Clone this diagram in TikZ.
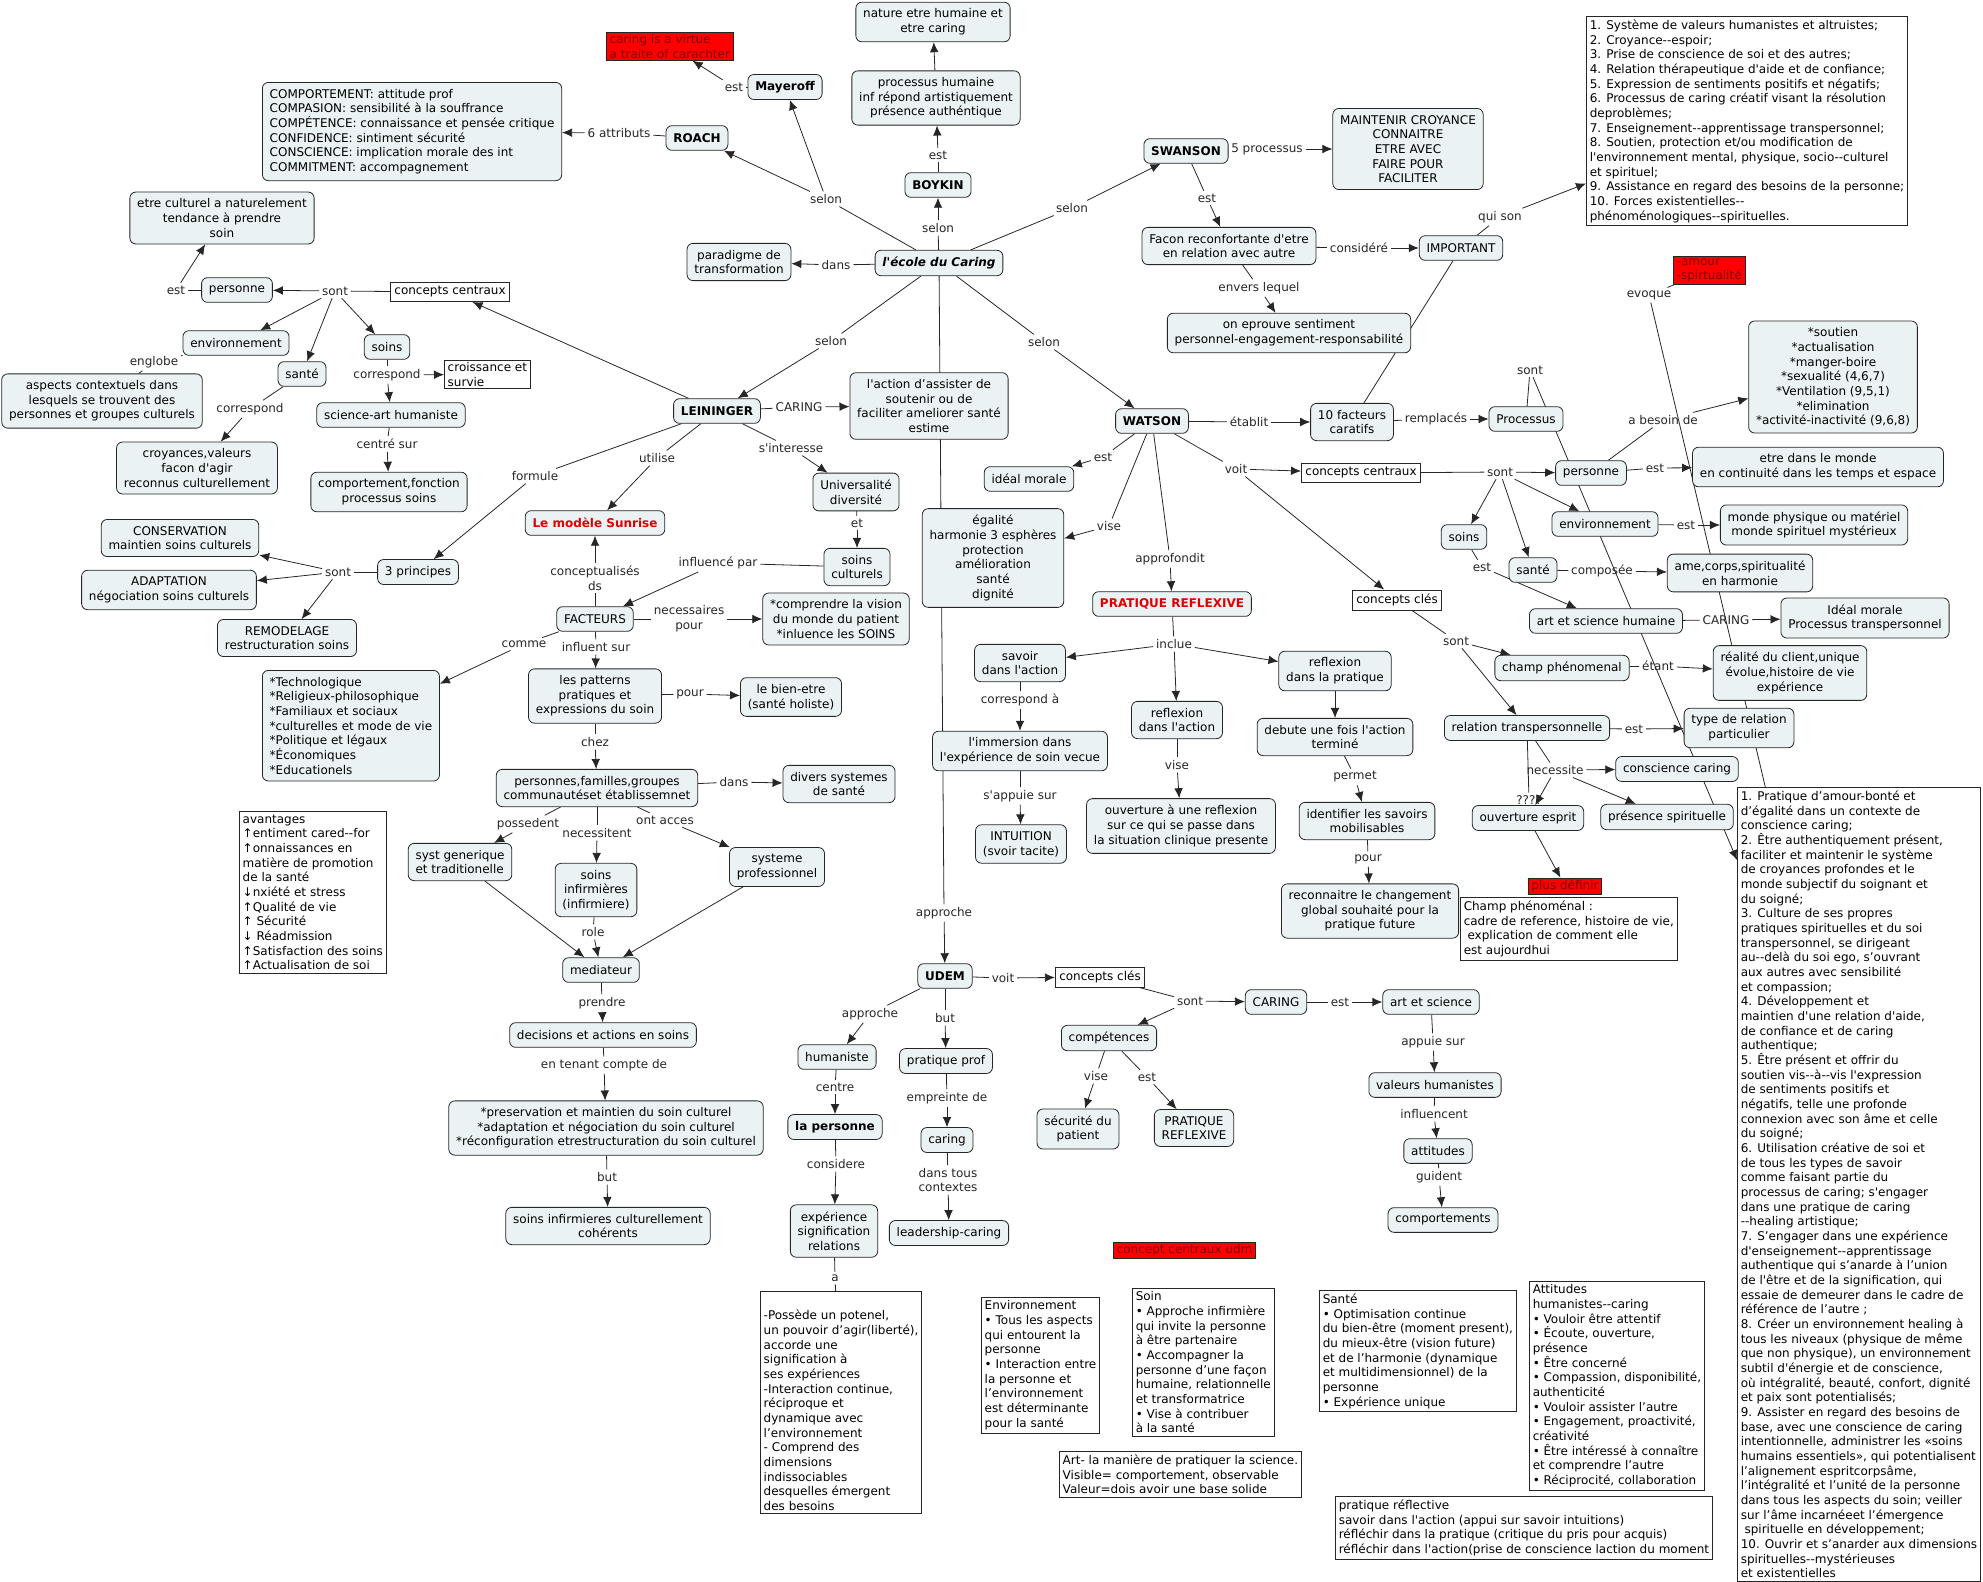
\documentclass[tikz,border=0pt]{standalone}
\usepackage{fontspec}
\setmainfont{DejaVu Sans}[Ligatures=TeXOff]
\usepackage{tikz}
\usetikzlibrary{arrows.meta,calc,backgrounds}
\definecolor{CmapFill}{HTML}{EBF2F4}
\definecolor{CmapLine}{HTML}{262626}
\definecolor{CmapRed}{HTML}{FF0000}
\definecolor{CmapRedText}{HTML}{7A0000}
\definecolor{CmapAlert}{HTML}{E00000}
\newcommand{\mapsize}{\fontsize{9}{11}\selectfont}

\begin{document}
\begin{tikzpicture}[
  x=0.75pt,y=-0.75pt,
  concept/.style={draw=CmapLine,line width=0.6pt,rounded corners=4.5pt,fill=CmapFill,align=center,font=\mapsize,inner xsep=5.5pt,inner ysep=5pt,minimum height=18.5pt},
  listbox/.style={concept,align=left,anchor=north west},
  strong/.style={concept,font=\mapsize\bfseries},
  alert/.style={concept,font=\mapsize\bfseries,text=CmapAlert},
  tag/.style={draw=CmapLine,line width=0.6pt,fill=white,font=\mapsize,inner xsep=3pt,inner ysep=3pt,minimum height=14.5pt},
  note/.style={draw=CmapLine,line width=0.6pt,fill=white,font=\mapsize,align=left,anchor=north west,inner xsep=2.5pt,inner ysep=2.5pt},
  flag/.style={note,fill=CmapRed,text=CmapRedText,inner ysep=1.5pt},
  link/.style={font=\mapsize,align=center,inner sep=2pt,text=CmapLine},
  plain/.style={line width=0.6pt,draw=CmapLine},
  arrow/.style={plain,-{Latex[length=7.5pt,width=6.5pt]}}
]
  \useasboundingbox (0,0) rectangle (1983,1581);

  % ---- l'ecole du caring and its authors
  \node[concept,font=\mapsize\bfseries\itshape] (ecole) at (939,263) {l'école du Caring};
  \node[concept] (paradigme) at (739,262) {paradigme de\\transformation};
  \node[strong] (boykin) at (938,185) {BOYKIN};
  \node[concept] (proch) at (936,98) {processus humaine\\inf répond artistiquement\\présence authéntique};
  \node[concept] (nature) at (933,22) {nature etre humaine et\\etre caring};
  \node[strong] (mayeroff) at (785,87) {Mayeroff};
  \node[flag] (virtue) at (606,32) {caring is a virtue\\a traite of carachter};
  \node[strong] (roach) at (697,138) {ROACH};
  \node[listbox] (comp) at (262,82) {COMPORTEMENT: attitude prof\\COMPASION: sensibilité à la souffrance\\COMPÉTENCE: connaissance et pensée critique\\CONFIDENCE: sintiment sécurité\\CONSCIENCE: implication morale des int\\COMMITMENT: accompagnement};
  \node[strong] (swanson) at (1186,151) {SWANSON};
  \node[concept] (maintenir) at (1408,149) {MAINTENIR CROYANCE\\CONNAITRE\\ETRE AVEC\\FAIRE POUR\\FACILITER};
  \node[concept] (facon) at (1229,246) {Facon reconfortante d'etre\\en relation avec autre};
  \node[concept] (important) at (1461,248) {IMPORTANT};
  \node[concept] (eprouve) at (1289,333) {on eprouve sentiment\\personnel-engagement-responsabilité};
  \node[note] (facteurslist) at (1586,16) {1. Système de valeurs humanistes et altruistes;\\2. Croyance--espoir;\\3. Prise de conscience de soi et des autres;\\4. Relation thérapeutique d'aide et de confiance;\\5. Expression de sentiments positifs et négatifs;\\6. Processus de caring créatif visant la résolution\\deproblèmes;\\7. Enseignement--apprentissage transpersonnel;\\8. Soutien, protection et/ou modification de\\l'environnement mental, physique, socio--culturel\\et spirituel;\\9. Assistance en regard des besoins de la personne;\\10. Forces existentielles--\\phénoménologiques--spirituelles.};

  \node[link] (lselonA) at (826,199) {selon};
  \node[link] (lestM) at (734,87) {est};
  \node[link] (l6att) at (619,133) {6 attributs};
  \node[link] (ldans) at (836,265) {dans};
  \node[link] (lselonB) at (938,228) {selon};
  \node[link] (lestB) at (938,155) {est};
  \node[link] (lselonS) at (1072,208) {selon};
  \node[link] (l5proc) at (1267,149) {5 processus};
  \node[link] (lestS) at (1207,198) {est};
  \node[link] (lconsid) at (1359,248) {considéré};
  \node[link] (lquison) at (1500,217) {qui son};
  \node[link] (lenvers) at (1259,288) {envers lequel};
  \node[link] (lselonL) at (831,341) {selon};
  \node[link] (lselonW) at (1044,342) {selon};
  \node[link] (lapproche) at (944,913) {approche};

  % ---- Leininger
  \node[strong] (leininger) at (717,411) {LEININGER};
  \node[tag] (cc1) at (450,292) {concepts centraux};
  \node[concept] (pers1) at (237,290) {personne};
  \node[concept] (culturel) at (222,218) {etre culturel a naturelement\\tendance à prendre\\soin};
  \node[concept] (env1) at (236,343) {environnement};
  \node[concept] (sante1) at (302,374) {santé};
  \node[concept] (soins1) at (387,347) {soins};
  \node[concept] (aspects) at (102,401) {aspects contextuels dans\\lesquels se trouvent des\\personnes et groupes culturels};
  \node[concept] (croy) at (197,468) {croyances,valeurs\\facon d'agir\\reconnus culturellement};
  \node[note,inner ysep=1.5pt] (croiss) at (444,360) {croissance et\\survie};
  \node[concept] (sciart) at (391,415) {science-art humaniste};
  \node[concept] (compfonc) at (389,492) {comportement,fonction\\processus soins};
  \node[concept] (action) at (929,406) {l'action d’assister de\\soutenir ou de\\faciliter ameliorer santé\\estime};
  \node[alert] (sunrise) at (595,523) {Le modèle Sunrise};
  \node[concept] (univ) at (856,492) {Universalité\\diversité};
  \node[concept] (soinscult) at (857,567) {soins\\culturels};
  \node[concept] (principes) at (418,572) {3 principes};
  \node[concept] (conserv) at (180,538) {CONSERVATION\\maintien soins culturels};
  \node[concept] (adapt) at (169,590) {ADAPTATION\\négociation soins culturels};
  \node[concept] (remod) at (287,638) {REMODELAGE\\restructuration soins};
  \node[concept] (facteurs) at (595,619) {FACTEURS};
  \node[concept] (comprendre) at (836,619) {*comprendre la vision\\du monde du patient\\{}*inluence les SOINS};
  \node[listbox] (techno) at (262,670) {*Technologique\\{}*Religieux-philosophique\\{}*Familiaux et sociaux\\{}*culturelles et mode de vie\\{}*Politique et légaux\\{}*Économiques\\{}*Educationels};
  \node[concept] (patterns) at (595,696) {les patterns\\pratiques et\\expressions du soin};
  \node[concept] (bienetre) at (791,697) {le bien-etre\\(santé holiste)};
  \node[note] (avantages) at (239,811) {avantages\\↑entiment cared--for\\↑onnaissances en\\matière de promotion\\de la santé\\↓nxiété et stress\\↑Qualité de vie\\↑ Sécurité\\↓ Réadmission\\↑Satisfaction des soins\\↑Actualisation de soi};
  \node[concept] (personnes) at (597,788) {personnes,familles,groupes\\communautéset établissemnet};
  \node[concept] (divers) at (839,784) {divers systemes\\de santé};
  \node[concept,align=left] (systgen) at (460,862) {syst generique\\et traditionelle};
  \node[concept] (soinsinf) at (596,890) {soins\\infirmières\\(infirmiere)};
  \node[concept] (systprof) at (777,867) {systeme\\professionnel};
  \node[concept] (mediateur) at (601,970) {mediateur};
  \node[concept] (decisions) at (603,1035) {decisions et actions en soins};
  \node[concept] (preserv) at (606,1128) {*preservation et maintien du soin culturel\\{}*adaptation et négociation du soin culturel\\{}*réconfiguration etrestructuration du soin culturel};
  \node[concept] (soinscoh) at (608,1226) {soins infirmieres culturellement\\cohérents};

  \node[link] (lsontL) at (335,291) {sont};
  \node[link] (lestP) at (176,290) {est};
  \node[link] (lenglobe) at (154,362) {englobe};
  \node[link] (lcorr1) at (250,409) {correspond};
  \node[link] (lcorr2) at (387,375) {correspond};
  \node[link] (lcentre) at (387,444) {centré sur};
  \node[link] (lcaring) at (799,407) {CARING};
  \node[link] (lformule) at (535,476) {formule};
  \node[link] (lutilise) at (657,458) {utilise};
  \node[link] (linteresse) at (791,448) {s'interesse};
  \node[link] (let) at (857,523) {et};
  \node[link] (lsont3) at (338,572) {sont};
  \node[link] (linflu) at (718,563) {influencé par};
  \node[link] (lconceptds) at (595,578) {conceptualisés\\ds};
  \node[link] (lnecess) at (689,619) {necessaires\\pour};
  \node[link] (lcomme) at (524,644) {comme};
  \node[link] (linfluent) at (596,647) {influent sur};
  \node[link] (lpour1) at (690,694) {pour};
  \node[link] (lchez) at (595,742) {chez};
  \node[link] (ldans2) at (734,782) {dans};
  \node[link] (lposs) at (528,824) {possedent};
  \node[link] (lnecessitent) at (597,833) {necessitent};
  \node[link] (lacces) at (665,820) {ont acces};
  \node[link] (lrole) at (593,932) {role};
  \node[link] (lprendre) at (602,1003) {prendre};
  \node[link] (ltenant) at (604,1065) {en tenant compte de};
  \node[link] (lbut1) at (607,1177) {but};

  % ---- Watson
  \node[strong] (watson) at (1152,421) {WATSON};
  \node[concept] (dixfact) at (1352,422) {10 facteurs\\caratifs};
  \node[concept] (processus) at (1526,419) {Processus};
  \node[concept] (ideal) at (1029,479) {idéal morale};
  \node[tag] (cc2) at (1361,473) {concepts centraux};
  \node[concept] (egalite) at (993,558) {égalité\\harmonie 3 esphères\\protection\\amélioration\\santé\\dignité};
  \node[alert] (pratref) at (1172,604) {PRATIQUE REFLEXIVE};
  \node[concept] (savoir) at (1020,663) {savoir\\dans l'action};
  \node[concept] (immersion) at (1020,751) {l'immersion dans\\l'expérience de soin vecue};
  \node[concept] (intuition) at (1021,844) {INTUITION\\(svoir tacite)};
  \node[concept] (refaction) at (1177,720) {reflexion\\dans l'action};
  \node[concept] (ouvref) at (1181,826) {ouverture à une reflexion\\sur ce qui se passe dans\\la situation clinique presente};
  \node[concept] (refprat) at (1335,671) {reflexion\\dans la pratique};
  \node[concept] (debute) at (1335,737) {debute une fois l'action\\terminé};
  \node[concept] (identifier) at (1367,821) {identifier les savoirs\\mobilisables};
  \node[concept] (reconn) at (1370,911) {reconnaitre le changement\\global souhaité pour la\\pratique future};
  \node[note] (champnote) at (1460,897) {Champ phénoménal :\\cadre de reference, histoire de vie,\\\ explication de comment elle\\est aujourdhui};
  \node[flag,anchor=center] (plusdef) at (1565,886) {plus définir};
  \node[tag] (ck1) at (1397,600) {concepts clés};
  \node[concept] (pers2) at (1591,473) {personne};
  \node[concept] (soutien) at (1833,377) {*soutien\\{}*actualisation\\{}*manger-boire\\{}*sexualité (4,6,7)\\{}*Ventilation (9,5,1)\\{}*elimination\\{}*activité-inactivité (9,6,8)};
  \node[concept] (etremonde) at (1818,467) {etre dans le monde\\en continuité dans les temps et espace};
  \node[concept] (env2) at (1605,524) {environnement};
  \node[concept] (monde) at (1814,525) {monde physique ou matériel\\monde spirituel mystérieux};
  \node[concept] (soins2) at (1464,537) {soins};
  \node[concept] (sante2) at (1533,570) {santé};
  \node[concept] (ame) at (1740,573) {ame,corps,spiritualité\\en harmonie};
  \node[concept] (artsh) at (1606,621) {art et science humaine};
  \node[concept] (idealproc) at (1865,618) {Idéal morale\\Processus transpersonnel};
  \node[concept] (champ) at (1562,668) {champ phénomenal};
  \node[concept] (realite) at (1790,673) {réalité du client,unique\\évolue,histoire de vie\\expérience};
  \node[concept] (reltrans) at (1527,728) {relation transpersonnelle};
  \node[concept] (typerel) at (1739,728) {type de relation\\particulier};
  \node[concept] (conscaring) at (1677,769) {conscience caring};
  \node[concept] (presence) at (1667,817) {présence spirituelle};
  \node[concept] (ouvesp) at (1528,818) {ouverture esprit};
  \node[flag] (amour) at (1673,256) {-amour\\-spirtualité};
  \node[note] (caritas) at (1737,787) {1. Pratique d’amour-bonté et\\d’égalité dans un contexte de\\conscience caring;\\2. Être authentiquement présent,\\faciliter et maintenir le système\\de croyances profondes et le\\monde subjectif du soignant et\\du soigné;\\3. Culture de ses propres\\pratiques spirituelles et du soi\\transpersonnel, se dirigeant\\au--delà du soi ego, s’ouvrant\\aux autres avec sensibilité\\et compassion;\\4. Développement et\\maintien d'une relation d'aide,\\de confiance et de caring\\authentique;\\5. Être présent et offrir du\\soutien vis--à--vis l'expression\\de sentiments positifs et\\négatifs, telle une profonde\\connexion avec son âme et celle\\du soigné;\\6. Utilisation créative de soi et\\de tous les types de savoir\\comme faisant partie du\\processus de caring; s'engager\\dans une pratique de caring\\--healing artistique;\\7. S’engager dans une expérience\\d'enseignement--apprentissage\\authentique qui s’anarde à l’union\\de l'être et de la signification, qui\\essaie de demeurer dans le cadre de\\référence de l’autre ;\\8. Créer un environnement healing à\\tous les niveaux (physique de même\\que non physique), un environnement\\subtil d'énergie et de conscience,\\où intégralité, beauté, confort, dignité\\et paix sont potentialisés;\\9. Assister en regard des besoins de\\base, avec une conscience de caring\\intentionnelle, administrer les «soins\\humains essentiels», qui potentialisent\\l’alignement espritcorpsâme,\\l’intégralité et l’unité de la personne\\dans tous les aspects du soin; veiller\\sur l’âme incarnéeet l’émergence\\\ spirituelle en développement;\\10. Ouvrir et s’anarder aux dimensions\\spirituelles--mystérieuses\\et existentielles};

  \node[link] (letablit) at (1249,422) {établit};
  \node[link] (lremp) at (1436,419) {remplacés};
  \node[link] (lsontP) at (1530,370) {sont};
  \node[link] (levoque) at (1649,295) {evoque};
  \node[link] (lestW) at (1103,457) {est};
  \node[link] (lvoitW) at (1236,469) {voit};
  \node[link] (lviseW) at (1109,526) {vise};
  \node[link] (lapprof) at (1170,559) {approfondit};
  \node[link] (linclue) at (1174,644) {inclue};
  \node[link] (lcorrA) at (1020,700) {correspond à};
  \node[link] (lappuie) at (1020,796) {s'appuie sur};
  \node[link] (lviseR) at (1177,765) {vise};
  \node[link] (lpermet) at (1355,777) {permet};
  \node[link] (lpour2) at (1368,859) {pour};
  \node[link] (lsontW) at (1500,472) {sont};
  \node[link] (lbesoin) at (1663,420) {a besoin de};
  \node[link] (lestPW) at (1655,468) {est};
  \node[link] (lestE) at (1686,525) {est};
  \node[link] (lestSo) at (1482,567) {est};
  \node[link] (lcompo) at (1602,571) {composée};
  \node[link] (lcaringW) at (1726,620) {CARING};
  \node[link] (lsontK) at (1456,641) {sont};
  \node[link] (letant) at (1658,666) {étant};
  \node[link] (lestR) at (1634,729) {est};
  \node[link] (lnecessite) at (1555,770) {necessite};
  \node[link] (lquest) at (1529,800) {????};

  % ---- UDEM
  \node[strong] (udem) at (945,976) {UDEM};
  \node[tag] (ck2) at (1100,977) {concepts clés};
  \node[concept] (caring1) at (1276,1002) {CARING};
  \node[concept] (artsci) at (1431,1002) {art et science};
  \node[concept] (valeurs) at (1435,1085) {valeurs humanistes};
  \node[concept] (attitudes) at (1438,1151) {attitudes};
  \node[concept] (comportements) at (1443,1220) {comportements};
  \node[concept] (competences) at (1109,1038) {compétences};
  \node[concept] (securite) at (1078,1129) {sécurité du\\patient};
  \node[concept] (pratref2) at (1194,1128) {PRATIQUE\\REFLEXIVE};
  \node[concept] (humaniste) at (837,1057) {humaniste};
  \node[strong] (lapersonne) at (835,1127) {la personne};
  \node[concept] (experience) at (834,1231) {expérience\\signification\\relations};
  \node[note] (possede) at (760,1291) {\strut\\-Possède un potenel,\\un pouvoir d’agir(liberté),\\accorde une\\signification à\\ses expériences\\-Interaction continue,\\réciproque et\\dynamique avec\\l’environnement\\- Comprend des\\dimensions\\indissociables\\desquelles émergent\\des besoins};
  \node[concept] (pratprof) at (946,1061) {pratique prof};
  \node[concept] (caring2) at (947,1140) {caring};
  \node[concept] (leadership) at (949,1233) {leadership-caring};
  \node[flag] (udmflag) at (1113,1242) {concept centraux udm};
  \node[note] (envnote) at (981,1297) {Environnement\\• Tous les aspects\\qui entourent la\\personne\\• Interaction entre\\la personne et\\l’environnement\\est déterminante\\pour la santé};
  \node[note] (soinnote) at (1132,1288) {Soin\\• Approche infirmière\\qui invite la personne\\à être partenaire\\• Accompagner la\\personne d’une façon\\humaine, relationnelle\\et transformatrice\\• Vise à contribuer\\à la santé};
  \node[note] (santenote) at (1319,1290) {Santé\\• Optimisation continue\\du bien-être (moment present),\\du mieux-être (vision future)\\et de l’harmonie (dynamique\\et multidimensionnel) de la\\personne\\• Expérience unique};
  \node[note] (artnote) at (1059,1451) {Art- la manière de pratiquer la science.\\Visible= comportement, observable\\Valeur=dois avoir une base solide};
  \node[note] (prefnote) at (1335,1496) {pratique réflective\\savoir dans l'action (appui sur savoir intuitions)\\réfléchir dans la pratique (critique du pris pour acquis)\\réfléchir dans l'action(prise de conscience laction du moment};
  \node[note] (attnote) at (1529,1281) {Attitudes\\humanistes--caring\\• Vouloir être attentif\\• Écoute, ouverture,\\présence\\• Être concerné\\• Compassion, disponibilité,\\authenticité\\• Vouloir assister l’autre\\• Engagement, proactivité,\\créativité\\• Être intéressé à connaître\\et comprendre l’autre\\• Réciprocité, collaboration};

  \node[link] (lvoitU) at (1003,978) {voit};
  \node[link] (lsontU) at (1190,1001) {sont};
  \node[link] (lestC) at (1340,1002) {est};
  \node[link] (lappuieS) at (1433,1042) {appuie sur};
  \node[link] (linfl) at (1434,1114) {influencent};
  \node[link] (lguident) at (1439,1177) {guident};
  \node[link] (lviseC) at (1096,1076) {vise};
  \node[link] (lestCo) at (1147,1077) {est};
  \node[link] (lapprocheH) at (870,1014) {approche};
  \node[link] (lbutU) at (945,1018) {but};
  \node[link] (lcentreP) at (835,1087) {centre};
  \node[link] (lconsidere) at (836,1164) {considere};
  \node[link] (la) at (835,1278) {a};
  \node[link] (lempreinte) at (947,1098) {empreinte de};
  \node[link] (ldanstous) at (948,1180) {dans tous\\contextes};

  \begin{scope}[on background layer]
    % ecole
    \draw[plain] (ecole) -- (lselonA);
    \draw[arrow] (lselonA) -- (mayeroff);
    \draw[arrow] (lselonA) -- (roach);
    \draw[plain] (mayeroff) -- (lestM);
    \draw[arrow] (lestM) -- (virtue);
    \draw[plain] (roach) -- (l6att);
    \draw[arrow] (l6att) -- (comp);
    \draw[plain] (ecole) -- (ldans);
    \draw[arrow] (ldans) -- (paradigme);
    \draw[plain] (ecole) -- (lselonB);
    \draw[arrow] (lselonB) -- (boykin);
    \draw[plain] (boykin) -- (lestB);
    \draw[arrow] (lestB) -- (proch);
    \draw[arrow] (proch) -- (nature);
    \draw[plain] (ecole) -- (lselonS);
    \draw[arrow] (lselonS) -- (swanson);
    \draw[plain] (swanson) -- (l5proc);
    \draw[arrow] (l5proc) -- (maintenir);
    \draw[plain] (swanson) -- (lestS);
    \draw[arrow] (lestS) -- (facon);
    \draw[plain] (facon) -- (lconsid);
    \draw[arrow] (lconsid) -- (important);
    \draw[plain] (facon) -- (lenvers);
    \draw[arrow] (lenvers) -- (eprouve);
    \draw[plain] (important) -- (lquison);
    \draw[arrow] (lquison) -- (facteurslist);
    \draw[plain] (dixfact) -- (important);
    \draw[plain] (ecole) -- (lselonL);
    \draw[arrow] (lselonL) -- (leininger);
    \draw[plain] (ecole) -- (lselonW);
    \draw[arrow] (lselonW) -- (watson);
    \draw[plain] (ecole) -- (lapproche);
    \draw[arrow] (lapproche) -- (udem);
    % leininger
    \draw[arrow] (leininger) -- (cc1);
    \draw[plain] (cc1) -- (lsontL);
    \draw[arrow] (lsontL) -- (pers1);
    \draw[arrow] (lsontL) -- (env1);
    \draw[arrow] (lsontL) -- (sante1);
    \draw[arrow] (lsontL) -- (soins1);
    \draw[plain] (pers1) -- (lestP);
    \draw[arrow] (lestP) -- (culturel);
    \draw[plain] (env1) -- (lenglobe);
    \draw[plain] (lenglobe) -- (aspects);
    \draw[plain] (sante1) -- (lcorr1);
    \draw[arrow] (lcorr1) -- (croy);
    \draw[plain] (soins1) -- (lcorr2);
    \draw[arrow] (lcorr2) -- (croiss);
    \draw[arrow] (lcorr2) -- (sciart);
    \draw[plain] (sciart) -- (lcentre);
    \draw[arrow] (lcentre) -- (compfonc);
    \draw[plain] (leininger) -- (lcaring);
    \draw[arrow] (lcaring) -- (action);
    \draw[plain] (leininger) -- (lformule);
    \draw[arrow] (lformule) -- (principes);
    \draw[plain] (principes) -- (lsont3);
    \draw[arrow] (lsont3) -- (conserv);
    \draw[arrow] (lsont3) -- (adapt);
    \draw[arrow] (lsont3) -- (remod);
    \draw[plain] (leininger) -- (lutilise);
    \draw[arrow] (lutilise) -- (sunrise);
    \draw[plain] (leininger) -- (linteresse);
    \draw[arrow] (linteresse) -- (univ);
    \draw[plain] (univ) -- (let);
    \draw[arrow] (let) -- (soinscult);
    \draw[plain] (soinscult) -- (linflu);
    \draw[arrow] (linflu) -- (facteurs);
    \draw[plain] (facteurs) -- (lconceptds);
    \draw[arrow] (lconceptds) -- (sunrise);
    \draw[plain] (facteurs) -- (lnecess);
    \draw[arrow] (lnecess) -- (comprendre);
    \draw[plain] (facteurs) -- (lcomme);
    \draw[arrow] (lcomme) -- (techno);
    \draw[plain] (facteurs) -- (linfluent);
    \draw[arrow] (linfluent) -- (patterns);
    \draw[plain] (patterns) -- (lpour1);
    \draw[arrow] (lpour1) -- (bienetre);
    \draw[plain] (patterns) -- (lchez);
    \draw[arrow] (lchez) -- (personnes);
    \draw[plain] (personnes) -- (ldans2);
    \draw[arrow] (ldans2) -- (divers);
    \draw[plain] (personnes) -- (lposs);
    \draw[arrow] (lposs) -- (systgen);
    \draw[plain] (personnes) -- (lnecessitent);
    \draw[arrow] (lnecessitent) -- (soinsinf);
    \draw[plain] (personnes) -- (lacces);
    \draw[arrow] (lacces) -- (systprof);
    \draw[arrow] (systgen) -- (mediateur);
    \draw[plain] (soinsinf) -- (lrole);
    \draw[arrow] (lrole) -- (mediateur);
    \draw[arrow] (systprof) -- (mediateur);
    \draw[plain] (mediateur) -- (lprendre);
    \draw[arrow] (lprendre) -- (decisions);
    \draw[plain] (decisions) -- (ltenant);
    \draw[arrow] (ltenant) -- (preserv);
    \draw[plain] (preserv) -- (lbut1);
    \draw[arrow] (lbut1) -- (soinscoh);
    % watson
    \draw[plain] (watson) -- (letablit);
    \draw[arrow] (letablit) -- (dixfact);
    \draw[plain] (dixfact) -- (lremp);
    \draw[arrow] (lremp) -- (processus);
    \draw[plain] (processus) -- (lsontP);
    \draw[arrow] (lsontP) -- ($(caritas.north west)!0.092!(caritas.south west)$);
    \draw[plain] ($(caritas.north west)!0.116!(caritas.north east)$) -- (levoque);
    \draw[plain] (levoque) -- (amour);
    \draw[plain] (watson) -- (lestW);
    \draw[arrow] (lestW) -- (ideal);
    \draw[plain] (watson) -- (lviseW);
    \draw[arrow] (lviseW) -- (egalite);
    \draw[plain] (watson) -- (lapprof);
    \draw[arrow] (lapprof) -- (pratref);
    \draw[plain] (watson) -- (lvoitW);
    \draw[arrow] (lvoitW) -- (cc2);
    \draw[arrow] (lvoitW) -- (ck1);
    \draw[plain] (cc2) -- (lsontW);
    \draw[arrow] (lsontW) -- (pers2);
    \draw[arrow] (lsontW) -- (env2);
    \draw[arrow] (lsontW) -- (sante2);
    \draw[arrow] (lsontW) -- (soins2);
    \draw[plain] (pers2) -- (lbesoin);
    \draw[arrow] (lbesoin) -- (soutien);
    \draw[plain] (pers2) -- (lestPW);
    \draw[arrow] (lestPW) -- (etremonde);
    \draw[plain] (env2) -- (lestE);
    \draw[arrow] (lestE) -- (monde);
    \draw[plain] (sante2) -- (lcompo);
    \draw[arrow] (lcompo) -- (ame);
    \draw[plain] (soins2) -- (lestSo);
    \draw[arrow] (lestSo) -- (artsh);
    \draw[plain] (artsh) -- (lcaringW);
    \draw[arrow] (lcaringW) -- (idealproc);
    \draw[plain] (ck1) -- (lsontK);
    \draw[arrow] (lsontK) -- (champ);
    \draw[arrow] (lsontK) -- (reltrans);
    \draw[plain] (champ) -- (letant);
    \draw[arrow] (letant) -- (realite);
    \draw[plain] (reltrans) -- (lestR);
    \draw[arrow] (lestR) -- (typerel);
    \draw[plain] (reltrans) -- (lnecessite);
    \draw[arrow] (lnecessite) -- (conscaring);
    \draw[arrow] (lnecessite) -- (ouvesp);
    \draw[arrow] (lnecessite) -- (presence);
    \draw[plain] (reltrans) -- (lquest);
    \draw[arrow] (ouvesp) -- (plusdef);
    \draw[plain] (pratref) -- (linclue);
    \draw[arrow] (linclue) -- (savoir);
    \draw[arrow] (linclue) -- (refaction);
    \draw[arrow] (linclue) -- (refprat);
    \draw[plain] (savoir) -- (lcorrA);
    \draw[arrow] (lcorrA) -- (immersion);
    \draw[plain] (immersion) -- (lappuie);
    \draw[arrow] (lappuie) -- (intuition);
    \draw[plain] (refaction) -- (lviseR);
    \draw[arrow] (lviseR) -- (ouvref);
    \draw[arrow] (refprat) -- (debute);
    \draw[plain] (debute) -- (lpermet);
    \draw[arrow] (lpermet) -- (identifier);
    \draw[plain] (identifier) -- (lpour2);
    \draw[arrow] (lpour2) -- (reconn);
    % udem
    \draw[plain] (udem) -- (lvoitU);
    \draw[arrow] (lvoitU) -- (ck2);
    \draw[plain] (ck2) -- (lsontU);
    \draw[arrow] (lsontU) -- (caring1);
    \draw[arrow] (lsontU) -- (competences);
    \draw[plain] (caring1) -- (lestC);
    \draw[arrow] (lestC) -- (artsci);
    \draw[plain] (artsci) -- (lappuieS);
    \draw[arrow] (lappuieS) -- (valeurs);
    \draw[plain] (valeurs) -- (linfl);
    \draw[arrow] (linfl) -- (attitudes);
    \draw[plain] (attitudes) -- (lguident);
    \draw[arrow] (lguident) -- (comportements);
    \draw[plain] (competences) -- (lviseC);
    \draw[arrow] (lviseC) -- (securite);
    \draw[plain] (competences) -- (lestCo);
    \draw[arrow] (lestCo) -- (pratref2);
    \draw[plain] (udem) -- (lapprocheH);
    \draw[arrow] (lapprocheH) -- (humaniste);
    \draw[plain] (humaniste) -- (lcentreP);
    \draw[arrow] (lcentreP) -- (lapersonne);
    \draw[plain] (lapersonne) -- (lconsidere);
    \draw[arrow] (lconsidere) -- (experience);
    \draw[plain] (experience) -- (la);
    \draw[plain] (la) -- (possede);
    \draw[plain] (udem) -- (lbutU);
    \draw[arrow] (lbutU) -- (pratprof);
    \draw[plain] (pratprof) -- (lempreinte);
    \draw[arrow] (lempreinte) -- (caring2);
    \draw[plain] (caring2) -- (ldanstous);
    \draw[arrow] (ldanstous) -- (leadership);
  \end{scope}
\end{tikzpicture}
\end{document}
